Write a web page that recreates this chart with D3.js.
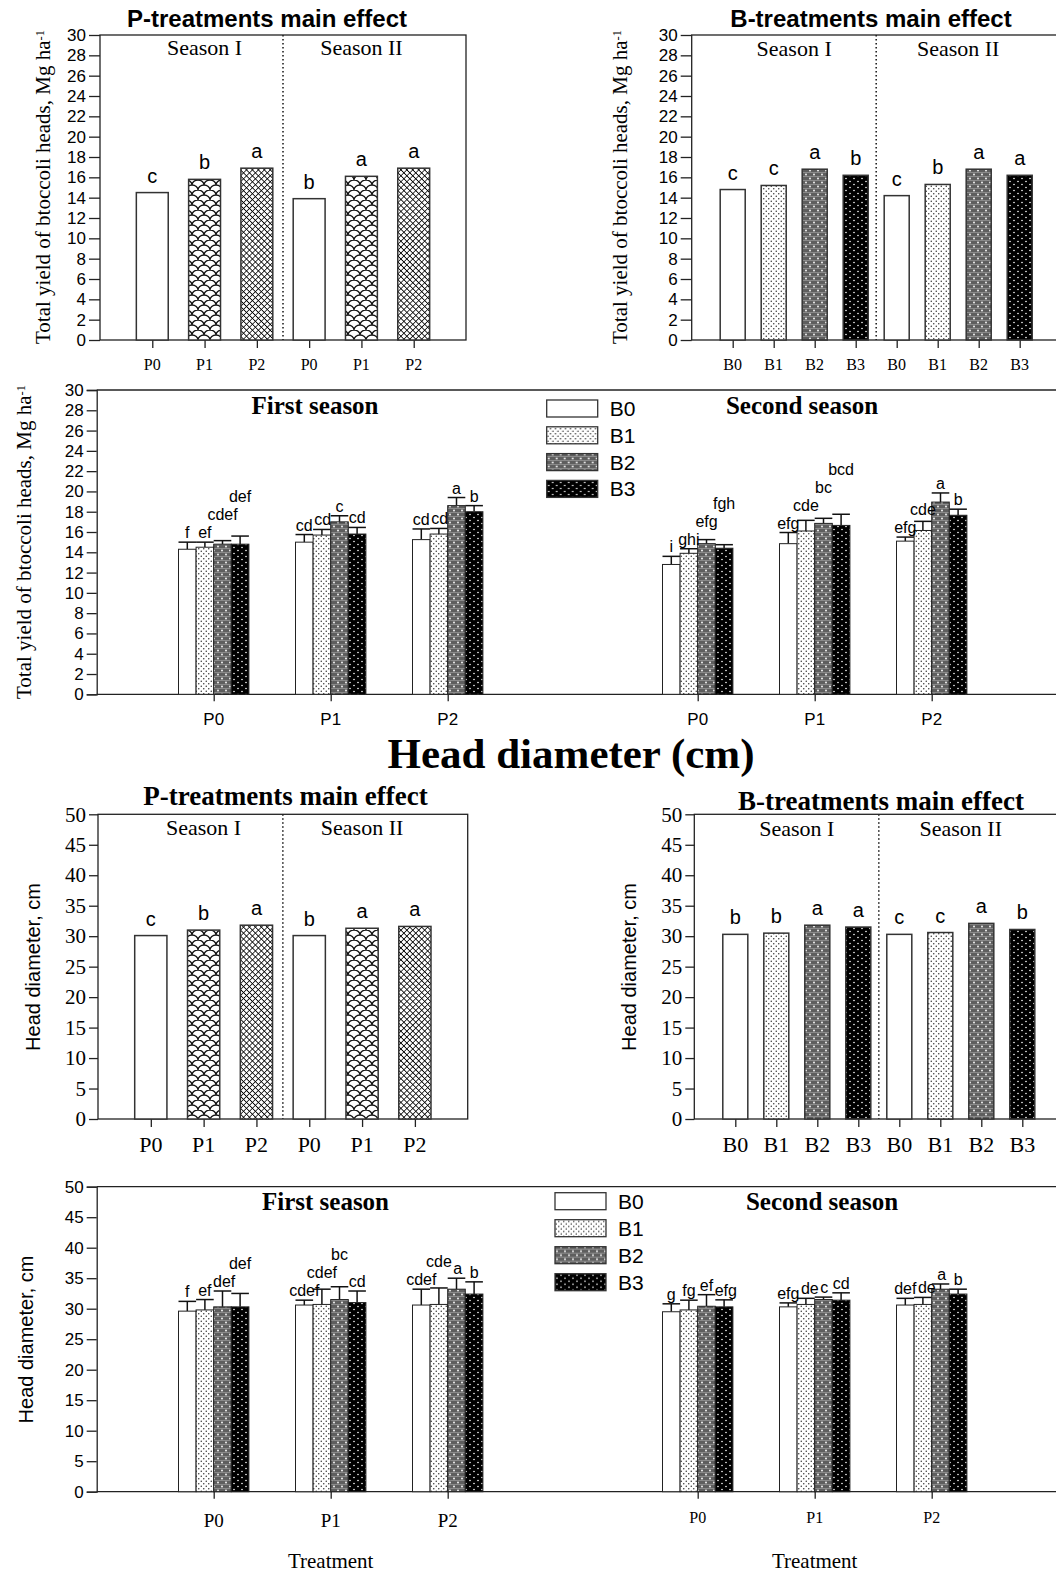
<!DOCTYPE html>
<html>
<head>
<meta charset="utf-8">
<script src="https://cdnjs.cloudflare.com/ajax/libs/d3/7.8.5/d3.min.js"></script>
<style>
  body { margin: 0; background: #fff; }
  svg { display: block; }
</style>
</head>
<body>
<div id="chart"></div>
<script>
// ---- data ----
const seasons = ['Season I', 'Season II']
const pLevels = ['P0', 'P1', 'P2']
const bLevels = ['B0', 'B1', 'B2', 'B3']

// total yield, Mg/ha - main effects [season][level]
const yieldP = [[14.5, 15.8, 16.9], [13.9, 16.1, 16.9]]
const yieldPLetters = [['c', 'b', 'a'], ['b', 'a', 'a']]
const yieldB = [[14.8, 15.2, 16.8, 16.2], [14.2, 15.3, 16.8, 16.2]]
const yieldBLetters = [['c', 'c', 'a', 'b'], ['c', 'b', 'a', 'a']]

// total yield, P x B interaction [season][P][B]
const yieldPB = [
  [[14.3, 14.5, 14.8, 14.8], [15.0, 15.7, 17.0, 15.8], [15.25, 15.8, 18.6, 18.0]],
  [[12.8, 13.9, 14.85, 14.4], [14.85, 16.1, 16.85, 16.65], [15.1, 16.15, 18.95, 17.65]]
]
const yieldPBErr = [
  [[0.7, 0.5, 0.35, 0.8], [0.75, 0.55, 0.6, 0.65], [1.05, 0.55, 0.8, 0.6]],
  [[0.8, 0.45, 0.4, 0.35], [1.1, 1.05, 0.5, 1.1], [0.4, 0.9, 0.9, 0.6]]
]
const yieldPBLetters = [
  [['f', 'ef', 'cdef', 'def'], ['cd', 'cd', 'c', 'cd'], ['cd', 'cd', 'a', 'b']],
  [['i', 'ghi', 'efg', 'fgh'], ['efg', 'cde', 'bc', 'bcd'], ['efg', 'cde', 'a', 'b']]
]

// head diameter, cm - main effects
const diamP = [[30.1, 31.0, 31.8], [30.1, 31.3, 31.6]]
const diamPLetters = [['c', 'b', 'a'], ['b', 'a', 'a']]
const diamB = [[30.3, 30.5, 31.8, 31.5], [30.3, 30.6, 32.1, 31.1]]
const diamBLetters = [['b', 'b', 'a', 'a'], ['c', 'c', 'a', 'b']]

// head diameter, P x B interaction
const diamPB = [
  [[29.6, 29.8, 30.3, 30.3], [30.6, 30.7, 31.5, 31.0], [30.6, 30.7, 33.2, 32.4]],
  [[29.5, 29.8, 30.4, 30.3], [30.3, 30.7, 31.5, 31.4], [30.6, 30.7, 33.2, 32.4]]
]
const diamPBErr = [
  [[1.6, 1.7, 2.6, 2.2], [0.8, 2.5, 2.1, 1.9], [2.6, 2.7, 1.8, 2.0]],
  [[1.3, 1.6, 1.9, 1.15], [0.65, 1.0, 0.4, 1.2], [1.1, 1.15, 0.85, 0.8]]
]
const diamPBLetters = [
  [['f', 'ef', 'def', 'def'], ['cdef', 'cdef', 'bc', 'cd'], ['cdef', 'cde', 'a', 'b']],
  [['g', 'fg', 'ef', 'efg'], ['efg', 'de', 'c', 'cd'], ['def', 'de', 'a', 'b']]
]

// ---- setup ----
const W = 1056
const H = 1574
const serif = '"Liberation Serif", "Times New Roman", serif'
const sans = '"Liberation Sans", Arial, sans-serif'

d3.select('#chart').selectAll('*').remove()
const svg = d3.select('#chart').append('svg').attr('width', W).attr('height', H)
const defs = svg.append('defs')

function pattern(id, w, h) {
  return defs.append('pattern').attr('id', id)
    .attr('patternUnits', 'userSpaceOnUse').attr('width', w).attr('height', h)
}

// P1: fish-scale waves
const pScale = pattern('pScale', 12, 10)
pScale.append('rect').attr('width', 12).attr('height', 10).attr('fill', '#fff')
pScale.append('path')
  .attr('d', 'M0,5 A6,5 0 0 1 12,5 M-6,10 A6,5 0 0 1 6,10 M6,10 A6,5 0 0 1 18,10')
  .attr('fill', 'none').attr('stroke', '#111').attr('stroke-width', 1.3)

// P2: dense crosshatch
const pHatch = pattern('pHatch', 4.2, 4.2).attr('patternTransform', 'rotate(45)')
pHatch.append('rect').attr('width', 4.2).attr('height', 4.2).attr('fill', '#fff')
pHatch.append('path').attr('d', 'M0,0 H4.2 M0,0 V4.2')
  .attr('stroke', '#000').attr('stroke-width', 1.5)

// B1: light dots
const bDots = pattern('bDots', 5, 5)
bDots.append('rect').attr('width', 5).attr('height', 5).attr('fill', '#fff')
bDots.append('circle').attr('cx', 1.25).attr('cy', 1.25).attr('r', 0.75).attr('fill', '#333')
bDots.append('circle').attr('cx', 3.75).attr('cy', 3.75).attr('r', 0.75).attr('fill', '#333')

// B2: grey dither with white dots
const bGrey = pattern('bGrey', 8, 8)
bGrey.append('rect').attr('width', 8).attr('height', 8).attr('fill', '#5e5e5e')
bGrey.append('path').attr('d', 'M0,0.5 H8 M0,4.5 H8').attr('stroke', '#8a8a8a').attr('stroke-width', 1)
bGrey.append('circle').attr('cx', 2).attr('cy', 2.5).attr('r', 0.9).attr('fill', '#fff')
bGrey.append('circle').attr('cx', 6).attr('cy', 6.5).attr('r', 0.9).attr('fill', '#fff')

// B3: black with white dots
const bBlack = pattern('bBlack', 8, 6)
bBlack.append('rect').attr('width', 8).attr('height', 6).attr('fill', '#000')
bBlack.append('circle').attr('cx', 2).attr('cy', 1.5).attr('r', 0.8).attr('fill', '#fff')
bBlack.append('circle').attr('cx', 6).attr('cy', 4.5).attr('r', 0.8).attr('fill', '#fff')

const fillP = { P0: '#fff', P1: 'url(#pScale)', P2: 'url(#pHatch)' }
const fillB = { B0: '#fff', B1: 'url(#bDots)', B2: 'url(#bGrey)', B3: 'url(#bBlack)' }

function yLabel(g, c) {
  const t = g.append('text')
    .attr('transform', `translate(${c.yLabelX},${c.yLabelY}) rotate(-90)`)
    .attr('text-anchor', 'middle')
    .attr('font-family', c.yLabelFont).attr('font-size', c.yLabelSize)
  if (c.yLabelSup) {
    t.append('tspan').text(c.yLabel)
    t.append('tspan').attr('dy', '-0.5em').attr('font-size', c.yLabelSize * 0.6).text(c.yLabelSup)
  } else {
    t.text(c.yLabel)
  }
}

// ---- main-effect panel (two seasons side by side) ----
function drawMain(c) {
  const g = svg.append('g')
  const items = seasons.flatMap((s, si) => c.levels.map((lv, li) => ({
    key: si + lv, level: lv, season: si, value: c.values[si][li], letter: c.letters[si][li]
  })))
  const x = d3.scalePoint().domain(items.map(d => d.key)).range([c.x0, c.x1]).padding(1)
  const y = d3.scaleLinear().domain([0, c.yMax]).range([c.bottom, c.top])
  const bw = x.step() * 0.61

  // frame
  g.append('rect').attr('x', c.x0).attr('y', c.top)
    .attr('width', c.x1 - c.x0).attr('height', c.bottom - c.top)
    .attr('fill', 'none').attr('stroke', '#222').attr('stroke-width', 1.3)

  // y axis
  const ya = g.append('g').attr('transform', `translate(${c.x0},0)`)
    .call(d3.axisLeft(y).tickValues(d3.range(0, c.yMax + 0.1, c.yStep)).tickSize(c.tickLen).tickPadding(3))
  ya.select('.domain').remove()
  ya.selectAll('line').attr('stroke', '#222').attr('stroke-width', 1.3)
  ya.selectAll('text').attr('font-family', c.tickFont).attr('font-size', c.tickSize).attr('fill', '#000')

  // x axis ticks
  const xa = g.append('g').attr('transform', `translate(0,${c.bottom})`)
    .call(d3.axisBottom(x).tickSize(8).tickFormat(''))
  xa.select('.domain').remove()
  xa.selectAll('line').attr('stroke', '#222').attr('stroke-width', 1.3)

  g.selectAll('.xlab').data(items).join('text')
    .attr('x', d => x(d.key)).attr('y', c.xLabelY)
    .attr('text-anchor', 'middle')
    .attr('font-family', serif).attr('font-size', c.xLabelSize)
    .text(d => d.level)

  // season divider
  const n = c.levels.length
  const mid = (x(items[n - 1].key) + x(items[n].key)) / 2
  g.append('line').attr('x1', mid).attr('x2', mid).attr('y1', c.top).attr('y2', c.bottom)
    .attr('stroke', '#222').attr('stroke-width', 1.6).attr('stroke-dasharray', '1.5,2.5')

  // bars
  g.selectAll('.bar').data(items).join('rect')
    .attr('x', d => x(d.key) - bw / 2).attr('y', d => y(d.value))
    .attr('width', bw).attr('height', d => c.bottom - y(d.value))
    .attr('fill', d => c.fills[d.level])
    .attr('stroke', '#333').attr('stroke-width', 1.5)

  // letters
  g.selectAll('.let').data(items).join('text')
    .attr('x', d => x(d.key)).attr('y', d => y(d.value) - 10)
    .attr('text-anchor', 'middle')
    .attr('font-family', sans).attr('font-size', 20)
    .text(d => d.letter)

  // season labels
  seasons.forEach((s, si) => {
    const xs = items.filter(d => d.season === si).map(d => x(d.key))
    g.append('text').attr('x', d3.mean(xs)).attr('y', c.seasonY)
      .attr('text-anchor', 'middle')
      .attr('font-family', serif).attr('font-size', c.seasonSize)
      .text(s)
  })

  // title
  g.append('text').attr('x', c.titleX).attr('y', c.titleY)
    .attr('text-anchor', 'middle')
    .attr('font-family', c.titleFont).attr('font-size', c.titleSize).attr('font-weight', 'bold')
    .text(c.title)

  yLabel(g, c)
}

// ---- P x B interaction panel ----
function drawInter(c) {
  const g = svg.append('g')
  const y = d3.scaleLinear().domain([0, c.yMax]).range([c.bottom, c.top])

  // top frame and baseline
  g.append('line').attr('x1', c.x0s[0]).attr('x2', W).attr('y1', c.top).attr('y2', c.top)
    .attr('stroke', '#222').attr('stroke-width', 1.3)
  g.append('line').attr('x1', c.x0s[0]).attr('x2', W).attr('y1', c.bottom).attr('y2', c.bottom)
    .attr('stroke', '#222').attr('stroke-width', 1.3)

  // y axis
  const ya = g.append('g').attr('transform', `translate(${c.x0s[0]},0)`)
    .call(d3.axisLeft(y).tickValues(d3.range(0, c.yMax + 0.1, c.yStep)).tickSize(10).tickPadding(3))
  ya.select('.domain').attr('stroke', '#222').attr('stroke-width', 1.3)
  ya.selectAll('line').attr('stroke', '#222').attr('stroke-width', 1.3)
  ya.selectAll('text').attr('font-family', sans).attr('font-size', 17).attr('fill', '#000')

  seasons.forEach((s, si) => {
    const gx = d3.scalePoint().domain(pLevels).range([c.x0s[si], c.x0s[si] + c.span]).padding(1)
    const bx = d3.scaleBand().domain(bLevels).range([-c.groupW / 2, c.groupW / 2])
    const bw = bx.bandwidth()
    const items = pLevels.flatMap((p, pi) => bLevels.map((b, bi) => ({
      p, b, value: c.values[si][pi][bi], err: c.errs[si][pi][bi], letter: c.letters[si][pi][bi]
    })))
    const cx = d => gx(d.p) + bx(d.b) + bw / 2

    // x ticks
    const xa = g.append('g').attr('transform', `translate(0,${c.bottom})`)
      .call(d3.axisBottom(gx).tickSize(7).tickFormat(''))
    xa.select('.domain').remove()
    xa.selectAll('line').attr('stroke', '#222').attr('stroke-width', 1.3)

    g.selectAll('.xl' + si).data(pLevels).join('text')
      .attr('x', p => gx(p)).attr('y', c.xLabelY[si])
      .attr('text-anchor', 'middle')
      .attr('font-family', c.xLabelFont).attr('font-size', c.xLabelSize[si])
      .text(p => p)

    // error bars (upper only)
    const eb = g.append('g').attr('stroke', '#111').attr('stroke-width', 1.5)
    eb.selectAll('.v').data(items).join('line')
      .attr('x1', cx).attr('x2', cx)
      .attr('y1', d => y(d.value)).attr('y2', d => y(d.value + d.err))
    eb.selectAll('.h').data(items).join('line')
      .attr('x1', d => cx(d) - bw / 2).attr('x2', d => cx(d) + bw / 2)
      .attr('y1', d => y(d.value + d.err)).attr('y2', d => y(d.value + d.err))

    // bars
    g.selectAll('.bar' + si).data(items).join('rect')
      .attr('x', d => cx(d) - bw / 2).attr('y', d => y(d.value))
      .attr('width', bw).attr('height', d => c.bottom - y(d.value))
      .attr('fill', d => fillB[d.b]).attr('stroke', '#222').attr('stroke-width', 1)

    // letters, nudged right or lifted when they would hit a neighbour
    const fs = 16
    const lift = 18
    pLevels.forEach(p => {
      const placed = []
      items.filter(d => d.p === p).forEach(d => {
        let x = cx(d)
        let base = y(d.value + d.err) - 4
        const t = g.append('text').attr('x', x).attr('y', base)
          .attr('text-anchor', 'middle')
          .attr('font-family', sans).attr('font-size', fs)
          .text(d.letter)
        const w = t.node().getComputedTextLength()
        let moved = true
        while (moved) {
          moved = false
          for (const q of placed) {
            const over = (q.w + w) / 2 + 1.5 - Math.abs(q.x - x)
            if (over > 0 && Math.abs(q.y - base) < lift) {
              if (over <= 4 && x > q.x) x += over
              else base = q.y - lift
              moved = true
            }
          }
        }
        t.attr('x', x).attr('y', base)
        placed.push({ x, y: base, w })
      })
    })

    // season title
    g.append('text').attr('x', c.titleX[si]).attr('y', c.titleY)
      .attr('text-anchor', 'middle')
      .attr('font-family', serif).attr('font-size', 25).attr('font-weight', 'bold')
      .text(si === 0 ? 'First season' : 'Second season')

    if (c.treatmentY) {
      g.append('text').attr('x', gx('P1')).attr('y', c.treatmentY)
        .attr('text-anchor', 'middle')
        .attr('font-family', serif).attr('font-size', 21)
        .text('Treatment')
    }
  })

  // legend
  const lg = g.append('g').attr('transform', `translate(${c.legendX},${c.legendY})`)
  bLevels.forEach((b, i) => {
    lg.append('rect').attr('x', 0).attr('y', i * c.legendStep).attr('width', 51).attr('height', 17)
      .attr('fill', fillB[b]).attr('stroke', '#333').attr('stroke-width', 1.3)
    lg.append('text').attr('x', 63).attr('y', i * c.legendStep + 16)
      .attr('font-family', sans).attr('font-size', 21)
      .text(b)
  })

  yLabel(g, c)
}

const yieldLabel = 'Total yield of btoccoli heads, Mg ha'

drawMain({
  levels: pLevels, values: yieldP, letters: yieldPLetters, fills: fillP,
  x0: 100, x1: 466, top: 35, bottom: 340, yMax: 30, yStep: 2,
  tickLen: 11, tickFont: sans, tickSize: 17, xLabelSize: 16, xLabelY: 370,
  title: 'P-treatments main effect', titleX: 267, titleY: 27, titleFont: sans, titleSize: 24,
  seasonY: 55, seasonSize: 22,
  yLabel: yieldLabel, yLabelSup: '-1', yLabelX: 50, yLabelY: 187, yLabelFont: serif, yLabelSize: 21
})

drawMain({
  levels: bLevels, values: yieldB, letters: yieldBLetters, fills: fillB,
  x0: 691.7, x1: 1060.7, top: 35, bottom: 340, yMax: 30, yStep: 2,
  tickLen: 11, tickFont: sans, tickSize: 17, xLabelSize: 16, xLabelY: 370,
  title: 'B-treatments main effect', titleX: 871, titleY: 27, titleFont: sans, titleSize: 24,
  seasonY: 56, seasonSize: 22,
  yLabel: yieldLabel, yLabelSup: '-1', yLabelX: 627, yLabelY: 187, yLabelFont: serif, yLabelSize: 21
})

drawInter({
  values: yieldPB, errs: yieldPBErr, letters: yieldPBLetters,
  top: 390, bottom: 694.3, yMax: 30, yStep: 2,
  x0s: [96.7, 580.7], span: 468, groupW: 70.4,
  xLabelFont: sans, xLabelSize: [17, 17], xLabelY: [725, 725],
  titleX: [315, 802], titleY: 414,
  legendX: 546.7, legendY: 400, legendStep: 26.8,
  yLabel: yieldLabel, yLabelSup: '-1', yLabelX: 31, yLabelY: 542, yLabelFont: serif, yLabelSize: 21
})

svg.append('text').attr('x', 571).attr('y', 768)
  .attr('text-anchor', 'middle')
  .attr('font-family', serif).attr('font-size', 43).attr('font-weight', 'bold')
  .text('Head diameter (cm)')

drawMain({
  levels: pLevels, values: diamP, letters: diamPLetters, fills: fillP,
  x0: 98, x1: 467.7, top: 814.3, bottom: 1119, yMax: 50, yStep: 5,
  tickLen: 9, tickFont: serif, tickSize: 21, xLabelSize: 22, xLabelY: 1152,
  title: 'P-treatments main effect', titleX: 285.5, titleY: 805, titleFont: serif, titleSize: 27,
  seasonY: 835, seasonSize: 22,
  yLabel: 'Head diameter, cm', yLabelX: 40, yLabelY: 967, yLabelFont: sans, yLabelSize: 20
})

drawMain({
  levels: bLevels, values: diamB, letters: diamBLetters, fills: fillB,
  x0: 694.3, x1: 1063.3, top: 814.3, bottom: 1119, yMax: 50, yStep: 5,
  tickLen: 9, tickFont: serif, tickSize: 21, xLabelSize: 22, xLabelY: 1152,
  title: 'B-treatments main effect', titleX: 881, titleY: 810, titleFont: serif, titleSize: 27,
  seasonY: 836, seasonSize: 22,
  yLabel: 'Head diameter, cm', yLabelX: 636, yLabelY: 967, yLabelFont: sans, yLabelSize: 20
})

drawInter({
  values: diamPB, errs: diamPBErr, letters: diamPBLetters,
  top: 1186.7, bottom: 1491.7, yMax: 50, yStep: 5,
  x0s: [96.7, 580.7], span: 468, groupW: 70.4,
  xLabelFont: serif, xLabelSize: [19, 16], xLabelY: [1527, 1523],
  titleX: [325.5, 822], titleY: 1210,
  legendX: 555, legendY: 1192.7, legendStep: 27,
  treatmentY: 1568,
  yLabel: 'Head diameter, cm', yLabelX: 33, yLabelY: 1339.5, yLabelFont: sans, yLabelSize: 20
})
</script>
</body>
</html>
